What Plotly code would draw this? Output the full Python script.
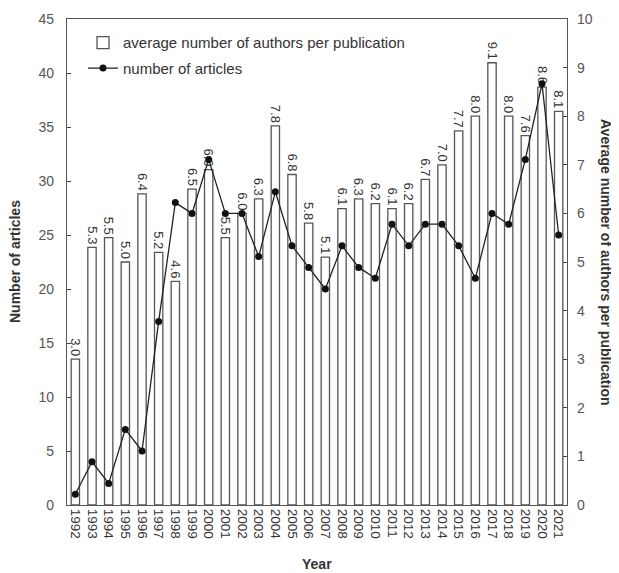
import plotly.graph_objects as go

years = [str(y) for y in range(1992, 2022)]
avg_authors = [3.0, 5.3, 5.5, 5.0, 6.4, 5.2, 4.6, 6.5, 6.9, 5.5,
               6.0, 6.3, 7.8, 6.8, 5.8, 5.1, 6.1, 6.3, 6.2, 6.1,
               6.2, 6.7, 7.0, 7.7, 8.0, 9.1, 8.0, 7.6, 8.6, 8.1]
articles = [1, 4, 2, 7, 5, 17, 28, 27, 32, 27,
            27, 23, 29, 24, 22, 20, 24, 22, 21, 26,
            24, 26, 26, 24, 21, 27, 26, 32, 39, 25]

FONT = "Liberation Sans, Arial, sans-serif"
OFF = 8  # default page body margin
W, H = 619 - OFF, 573 - OFF
# target plot box in window pixels: x 67..567, y 19..505
L, R, T, B = 67 - OFF, 619 - 567, 19 - OFF, 573 - 505
PW, PH = W - L - R, H - T - B

fig = go.Figure()
fig.add_trace(go.Bar(
    x=years, y=avg_authors, name="average number of authors per publication",
    legendgroup="a",
    marker=dict(color="white", line=dict(color="#555555", width=1.3)),
    text=[f"{v:.1f}" for v in avg_authors], textposition="outside",
    textangle=90, constraintext="none",
    textfont=dict(size=13, color="#333333", family=FONT),
    cliponaxis=False, yaxis="y",
))
fig.add_trace(go.Scatter(
    x=years, y=articles, name="number of articles", mode="lines+markers",
    legendgroup="b",
    line=dict(color="#222222", width=1.3),
    marker=dict(color="#111111", size=7, symbol="circle"),
    yaxis="y2", cliponaxis=False,
))

fig.update_layout(
    width=W, height=H,
    margin=dict(l=L, r=R, t=T, b=B, autoexpand=False),
    paper_bgcolor="white", plot_bgcolor="white",
    font=dict(family=FONT, size=14, color="#333333"),
    bargap=0.5,
    showlegend=True,
    legend=dict(x=0.032, y=0.985, xanchor="left", yanchor="top",
                bgcolor="rgba(0,0,0,0)", font=dict(size=15, color="#333333"),
                tracegroupgap=3),
    xaxis=dict(type="category", range=[-0.5, len(years) - 0.5], autorange=False,
               tickmode="array", tickvals=years, ticktext=years,
               tickangle=90, ticks="", showgrid=False,
               showline=True, linecolor="#555555", linewidth=1.3, mirror=True,
               automargin=False, tickfont=dict(size=13.5, color="#333333")),
    yaxis=dict(side="right", range=[0, 10], dtick=1, ticks="inside", ticklen=4,
               showgrid=False, showline=True, linecolor="#555555", linewidth=1.3,
               zeroline=False, automargin=False, ticklabelstandoff=6,
               tickfont=dict(size=14, color="#555555")),
    yaxis2=dict(side="left", overlaying="y", range=[0, 45], dtick=5,
                ticks="inside", ticklen=4, showgrid=False, showline=True,
                linecolor="#555555", linewidth=1.3, zeroline=False, automargin=False,
                ticklabelstandoff=9, tickfont=dict(size=14, color="#555555")),
    annotations=[
        dict(text="<b>Number of articles</b>", x=(15 - 67) / PW, y=0.5,
             xref="paper", yref="paper",
             textangle=-90, showarrow=False, font=dict(size=14, color="#333333"),
             xanchor="center", yanchor="middle"),
        dict(text="<b>Average number of authors per publication</b>",
             x=(606 - 67) / PW, y=0.5,
             xref="paper", yref="paper", textangle=90, showarrow=False,
             font=dict(size=14, color="#333333"), xanchor="center", yanchor="middle"),
        dict(text="<b>Year</b>", x=0.5, y=-(564 - 505) / PH,
             xref="paper", yref="paper",
             showarrow=False, font=dict(size=14, color="#333333"),
             xanchor="center", yanchor="middle"),
    ],
)

fig.write_html("out.html")
